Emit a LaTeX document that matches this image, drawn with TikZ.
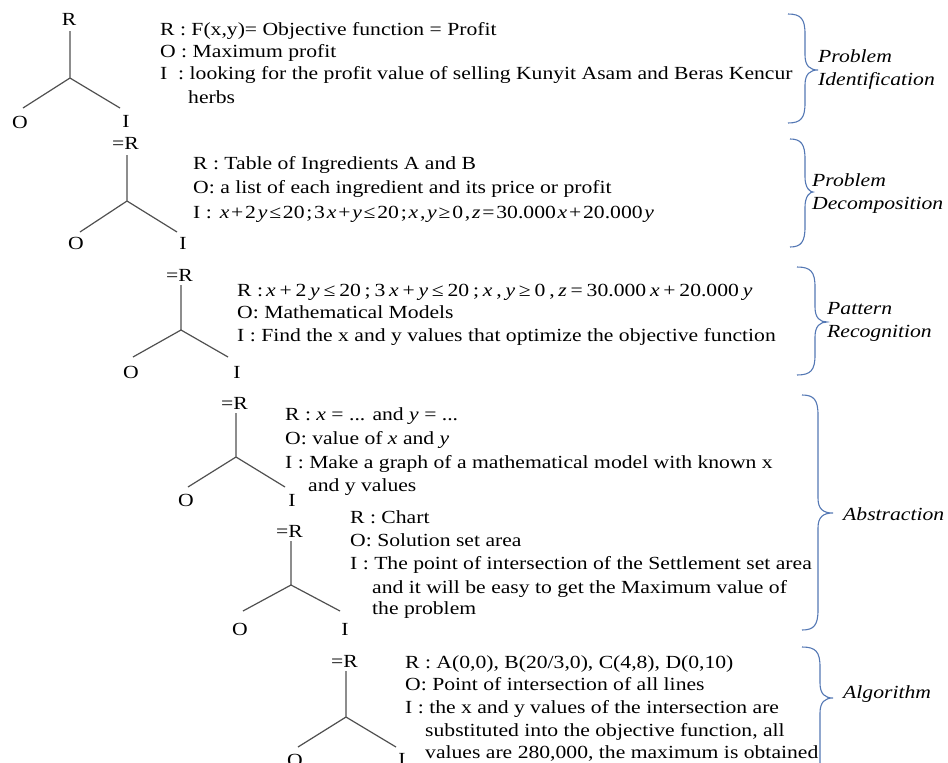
\documentclass[tikz,border=0pt]{standalone}
\usepackage{fontspec}
\setmainfont{Liberation Serif}[FakeStretch=1.17]
\newcommand\myfs{\fontsize{18.5}{23}\selectfont}
\definecolor{treegray}{RGB}{80,80,80}
\definecolor{braceblue}{RGB}{84,120,180}
\newcommand\mv[1]{\textit{#1}}
\newcommand\mybrace[6]{%
 \draw[brc] (#1,#4) .. controls ({#2-4},#4) and (#2,{#4+5}) .. (#2,{#4+20}) -- (#2,{#5-15})
   .. controls (#2,{#5-4}) and ({#2+5},#5) .. (#3,#5)
   .. controls ({#2+5},#5) and (#2,{#5+4}) .. (#2,{#5+15}) -- (#2,{#6-20})
   .. controls (#2,{#6-5}) and ({#2-4},#6) .. (#1,#6);}
\newcommand\mathA[1]{\def\g{\hspace{#1}}\mv{x}\g+\g2\g\mv{y}\g≤\g20\g;\g3\g\mv{x}\g+\g\mv{y}\g≤\g20\g;\g\mv{x}\g,\g\mv{y}\g≥\g0\g,\g\mv{z}\g=\g30.000\g\mv{x}\g+\g20.000\g\mv{y}}
\begin{document}
\begin{tikzpicture}[x=1pt,y=-1pt,
  txt/.style={anchor=base west, inner sep=0, font=\myfs},
  lbl/.style={inner sep=0, font=\myfs},
  eqr/.style={inner sep=0, font=\myfs, anchor=base east},
  side/.style={anchor=west, inner sep=0, align=left, font=\myfs\itshape},
  tree/.style={draw=treegray, line width=1.2pt},
  brc/.style={draw=braceblue, line width=1.1pt}]
\useasboundingbox (0,0) rectangle (948,763);
% ---------- tree 1
\node[lbl] (r1) at (69,19) {R};
\coordinate (t1) at (70,31); \coordinate (j1) at (70,78);
\coordinate (l1) at (23,108); \coordinate (m1) at (120,108);
\node[lbl] (o1) at (20,122) {O};
\node[lbl] (i1) at (126,121) {I};
\draw[tree] (t1) -- (j1) (l1) -- (j1) -- (m1);
% ---------- tree 2
\node[eqr] (r2) at (139,149) {=R};
\coordinate (t2) at (127,155); \coordinate (j2) at (127,201);
\coordinate (l2) at (80,232); \coordinate (m2) at (177,232);
\node[lbl] (o2) at (76,243) {O};
\node[lbl] (i2) at (183,243) {I};
\draw[tree] (t2) -- (j2) (l2) -- (j2) -- (m2);
% ---------- tree 3
\node[eqr] (r3) at (193,281) {=R};
\coordinate (t3) at (181,285); \coordinate (j3) at (181,330);
\coordinate (l3) at (133,357); \coordinate (m3) at (228,357);
\node[lbl] (o3) at (131,372) {O};
\node[lbl] (i3) at (237,372) {I};
\draw[tree] (t3) -- (j3) (l3) -- (j3) -- (m3);
% ---------- tree 4
\node[eqr] (r4) at (248,409) {=R};
\coordinate (t4) at (236,413); \coordinate (j4) at (236,457);
\coordinate (l4) at (188,487); \coordinate (m4) at (285,487);
\node[lbl] (o4) at (186,500) {O};
\node[lbl] (i4) at (292,500) {I};
\draw[tree] (t4) -- (j4) (l4) -- (j4) -- (m4);
% ---------- tree 5
\node[eqr] (r5) at (303,537) {=R};
\coordinate (t5) at (291,541); \coordinate (j5) at (291,585);
\coordinate (l5) at (243,611); \coordinate (m5) at (340,611);
\node[lbl] (o5) at (240,629) {O};
\node[lbl] (i5) at (345,629) {I};
\draw[tree] (t5) -- (j5) (l5) -- (j5) -- (m5);
% ---------- tree 6
\node[eqr] (r6) at (358,667) {=R};
\coordinate (t6) at (346,671); \coordinate (j6) at (346,717);
\coordinate (l6) at (298,747); \coordinate (m6) at (396,747);
\node[lbl] (o6) at (295,760) {O};
\node[lbl] (i6) at (402,759) {I};
\draw[tree] (t6) -- (j6) (l6) -- (j6) -- (m6);
% ---------- block 1
\node[txt] (a1) at (160,35) {R : F(x,y)= Objective function = Profit};
\node[txt] (a2) at (160,57) {O : Maximum profit};
\node[txt] (a3) at (160,79) {I\ \ : looking for the profit value of selling Kunyit Asam and Beras Kencur};
\node[txt] (a4) at (188,103) {herbs};
% ---------- block 2
\node[txt] (b1) at (193,169) {R : Table of Ingredients A and B};
\node[txt] (b2) at (193,193) {O: a list of each ingredient and its price or profit};
\node[txt] (b3) at (193,218) {I :\hspace{8pt}\mathA{1.8pt}};
% ---------- block 3
\node[txt] (c1) at (237,296) {R :\,\mathA{3.8pt}};
\node[txt] (c2) at (237,318) {O: Mathematical Models};
\node[txt] (c3) at (237,341) {I : Find the x and y values that optimize the objective function};
% ---------- block 4
\node[txt] (d1) at (285,420) {R : \mv{x} = ... and \mv{y} = ...};
\node[txt] (d2) at (285,444) {O: value of \mv{x} and \mv{y}};
\node[txt] (d3) at (285,468) {I : Make a graph of a mathematical model with known x};
\node[txt] (d4) at (308,491) {and y values};
% ---------- block 5
\node[txt] (e1) at (350,523) {R : Chart};
\node[txt] (e2) at (350,546) {O: Solution set area};
\node[txt] (e3) at (350,569) {I : The point of intersection of the Settlement set area};
\node[txt] (e4) at (372,593) {and it will be easy to get the Maximum value of};
\node[txt] (e5) at (372,614) {the problem};
% ---------- block 6
\node[txt] (f1) at (405,668) {R : A(0,0), B(20/3,0), C(4,8), D(0,10)};
\node[txt] (f2) at (405,690) {O: Point of intersection of all lines};
\node[txt] (f3) at (405,713) {I : the x and y values of the intersection are};
\node[txt] (f4) at (425,736) {substituted into the objective function, all};
\node[txt] (f5) at (425,758) {values are 280,000, the maximum is obtained};
% ---------- braces
\mybrace{788}{805}{818}{14}{70}{123}
\mybrace{790}{805}{813}{139}{192}{247}
\mybrace{797}{815}{827}{267}{322}{375}
\mybrace{802}{818}{833}{395}{513}{630}
\mybrace{802}{820}{833}{647}{698}{800}
% ---------- side labels
\node[side] (s1) at (818,70) {Problem\\Identification};
\node[side] (s2) at (812,194) {Problem\\Decomposition};
\node[side] (s3) at (827,322) {Pattern\\Recognition};
\node[side] (s4) at (843,514) {Abstraction};
\node[side] (s5) at (843,694) {Algorithm};
\end{tikzpicture}
\end{document}
